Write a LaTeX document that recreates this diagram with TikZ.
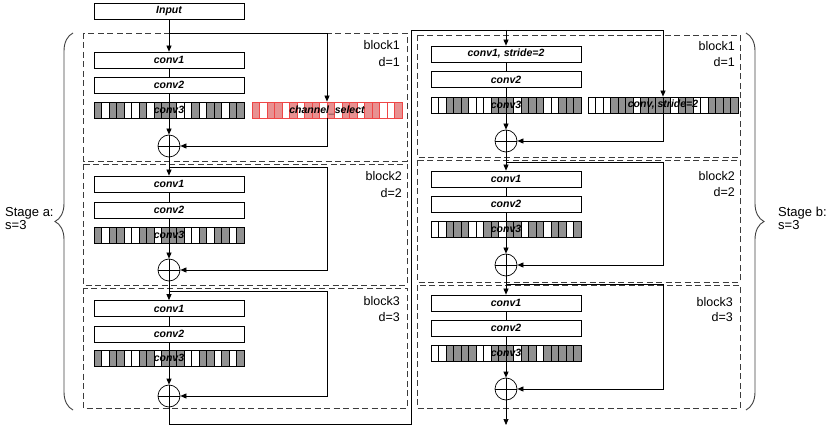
\documentclass[tikz,border=0pt]{standalone}
\usepackage{fontspec}
\setmainfont{Liberation Sans}
\usetikzlibrary{arrows.meta,decorations.pathreplacing,calc}
\definecolor{cellgray}{RGB}{145,145,145}
\definecolor{cellred}{RGB}{232,145,145}
\definecolor{redline}{RGB}{238,70,70}
\definecolor{dashcol}{RGB}{60,60,60}
\newcommand\lblfont{\fontsize{10.5}{12}\selectfont\bfseries\itshape}
\newcommand\txtfont{\fontsize{12.5}{14}\selectfont}
\newcommand\stgfont{\fontsize{13}{14}\selectfont}
\newcommand\cellbar[6]{%
  \foreach \v [count=\i from 0] in {#6}{%
    \ifnum\v=1 \def\fc{#4}\else\def\fc{white}\fi
    \filldraw[fill=\fc, draw=#5, line width=0.5pt] ({#1+\i*#3},#2) rectangle ++(#3,16);
  }}
\begin{document}
\begin{tikzpicture}[x=1pt,y=-1pt,
  cbox/.style={draw, fill=white, line width=0.7pt, minimum width=150pt, minimum height=16pt, inner sep=0pt, font=\lblfont},
  bbox/.style={draw, line width=0.7pt, minimum width=150pt, minimum height=16pt, inner sep=0pt, font=\lblfont},
  rbox/.style={draw=redline, line width=0.7pt, minimum width=150pt, minimum height=16pt, inner sep=0pt, font=\lblfont},
  plusnode/.style={circle, draw, line width=0.7pt, minimum size=22pt, inner sep=0pt,
    path picture={\draw[line width=0.7pt] (path picture bounding box.north) -- (path picture bounding box.south)
      (path picture bounding box.west) -- (path picture bounding box.east);}},
  arr/.style={line width=0.7pt, -{Triangle[length=6pt,width=5pt]}},
  ln/.style={line width=0.7pt},
  blockbox/.style={draw=dashcol, line width=0.9pt, dash pattern=on 6pt off 3.5pt},
  txt/.style={font=\txtfont, inner sep=0pt},
  stg/.style={font=\stgfont, inner sep=0pt},
  bracestyle/.style={draw=black!75, line width=0.9pt, decorate, decoration={brace, amplitude=18pt}}
]
\useasboundingbox (0,0) rectangle (830,430);

% dashed block frames
\draw[blockbox] (83,33) rectangle (407,161);
\draw[blockbox] (83,164) rectangle (407,285);
\draw[blockbox] (83,288) rectangle (407,408);
\draw[blockbox] (417,35) rectangle (740,157);
\draw[blockbox] (417,160) rectangle (740,282);
\draw[blockbox] (417,285) rectangle (740,408);

% braces and stage labels
\draw[bracestyle] (73,410) -- (73,33);
\draw[bracestyle] (746,33) -- (746,410);
\node[stg, anchor=base west] (sa1) at (5,217) {Stage a:};
\node[stg, anchor=base west] (sa2) at (5,230) {s=3};
\node[stg, anchor=base west] (sb1) at (778,217) {Stage b:};
\node[stg, anchor=base west] (sb2) at (778,230) {s=3};

% block labels
\node[txt, anchor=base east] (lb1) at (400,50) {block1};
\node[txt, anchor=base east] (ld1) at (400,67) {d=1};
\node[txt, anchor=base east] (lb2) at (402,181) {block2};
\node[txt, anchor=base east] (ld2) at (402,198) {d=2};
\node[txt, anchor=base east] (lb3) at (400,306) {block3};
\node[txt, anchor=base east] (ld3) at (400,322) {d=3};
\node[txt, anchor=base east] (rb1) at (735,51) {block1};
\node[txt, anchor=base east] (rd1) at (735,67) {d=1};
\node[txt, anchor=base east] (rb2) at (735,181) {block2};
\node[txt, anchor=base east] (rd2) at (735,197) {d=2};
\node[txt, anchor=base east] (rb3) at (733,307) {block3};
\node[txt, anchor=base east] (rd3) at (733,322) {d=3};

% ---------- left column ----------
\node[cbox] (In) at (169,11) {Input};
% block 1
\node[cbox] (L1a) at (169,60) {conv1};
\node[cbox] (L1b) at (169,85) {conv2};
\cellbar{94}{102}{7.5}{cellgray}{black}{1,0,1,1,0,0,1,0,1,1,1,0,0,1,0,1,1,0,1,1}
\node[bbox] (L1c) at (169,110) {conv3};
\cellbar{252}{102}{7.5}{cellred}{redline}{1,0,1,1,0,1,0,1,1,0,1,0,1,1,0,1,1,0,0,1}
\node[rbox] (CS) at (327,110) {channel\_select};
\node[plusnode] (L1p) at (169,146) {};
% block 2
\node[cbox] (L2a) at (169,184) {conv1};
\node[cbox] (L2b) at (169,210) {conv2};
\cellbar{94}{227}{7.5}{cellgray}{black}{1,0,1,1,0,0,1,1,0,1,1,1,0,0,1,0,1,1,0,1}
\node[bbox] (L2c) at (169,235) {conv3};
\node[plusnode] (L2p) at (169,270) {};
% block 3
\node[cbox] (L3a) at (169,308.5) {conv1};
\node[cbox] (L3b) at (169,334) {conv2};
\cellbar{94}{350}{7.5}{cellgray}{black}{1,0,1,1,0,0,1,1,0,1,1,1,0,0,1,1,0,1,0,1}
\node[bbox] (L3c) at (169,358) {conv3};
\node[plusnode] (L3p) at (169,396) {};

% ---------- right column ----------
\node[cbox] (R1a) at (506,54) {conv1, stride=2};
\node[cbox] (R1b) at (506,79.5) {conv2};
\cellbar{431}{97}{7.5}{cellgray}{black}{0,0,1,1,1,0,0,0,1,1,1,0,1,1,1,0,0,1,1,1}
\node[bbox] (R1c) at (506,105) {conv3};
\cellbar{588}{97}{7.5}{cellgray}{black}{0,0,0,1,1,1,0,1,1,1,1,0,1,1,0,0,1,1,1,1}
\node[bbox] (Rs) at (663,105) {conv, stride=2};
\node[plusnode] (R1p) at (506,141) {};
% block 2
\node[cbox] (R2a) at (506,179) {conv1};
\node[cbox] (R2b) at (506,204) {conv2};
\cellbar{431}{221}{7.5}{cellgray}{black}{0,0,1,1,1,0,0,1,1,0,1,1,0,1,1,0,1,1,0,1}
\node[bbox] (R2c) at (506,229) {conv3};
\node[plusnode] (R2p) at (506,265) {};
% block 3
\node[cbox] (R3a) at (506,303) {conv1};
\node[cbox] (R3b) at (506,328) {conv2};
\cellbar{431}{345}{7.5}{cellgray}{black}{0,0,1,1,1,1,0,0,1,1,1,0,1,1,0,1,1,1,1,1}
\node[bbox] (R3c) at (506,353) {conv3};
\node[plusnode] (R3p) at (506,389) {};

% ---------- connectors ----------
\coordinate (LJ1) at (169,33);
\coordinate (LJ2) at (169,167);
\coordinate (LK2) at (327,167);
\coordinate (LJ3) at (169,291);
\coordinate (LK3) at (327,291);
\coordinate (B1) at (411,424);
\coordinate (B2) at (411,30);
\coordinate (RJ1) at (506,30);
\coordinate (RJ2) at (506,162);
\coordinate (RK2) at (663,162);
\coordinate (RJ3) at (506,284);
\coordinate (RK3) at (663,284);
\coordinate (Out) at (506,425);

\draw[arr] (In) -- (L1a);
\draw[ln] (L1a) -- (L1b);
\draw[arr] (L1b) -- (L1p);
\draw[arr] (LJ1) -| (CS.north);
\draw[arr] (CS.south) |- (L1p.east);
\draw[arr] (L1p) -- (L2a);
\draw[ln] (L2a) -- (L2b);
\draw[arr] (L2b) -- (L2p);
\draw[arr] (LJ2) -- (LK2) |- (L2p.east);
\draw[arr] (L2p) -- (L3a);
\draw[ln] (L3a) -- (L3b);
\draw[arr] (L3b) -- (L3p);
\draw[arr] (LJ3) -- (LK3) |- (L3p.east);
\draw[arr] (L3p.south) |- (B1) -- (B2) -| (Rs.north);
\draw[arr] (RJ1) -- (R1a);
\draw[ln] (R1a) -- (R1b);
\draw[arr] (R1b) -- (R1p);
\draw[arr] (Rs.south) |- (R1p.east);
\draw[arr] (R1p) -- (R2a);
\draw[ln] (R2a) -- (R2b);
\draw[arr] (R2b) -- (R2p);
\draw[arr] (RJ2) -- (RK2) |- (R2p.east);
\draw[arr] (R2p) -- (R3a);
\draw[ln] (R3a) -- (R3b);
\draw[arr] (R3b) -- (R3p);
\draw[arr] (RJ3) -- (RK3) |- (R3p.east);
\draw[arr] (R3p) -- (Out);
\end{tikzpicture}
\end{document}
